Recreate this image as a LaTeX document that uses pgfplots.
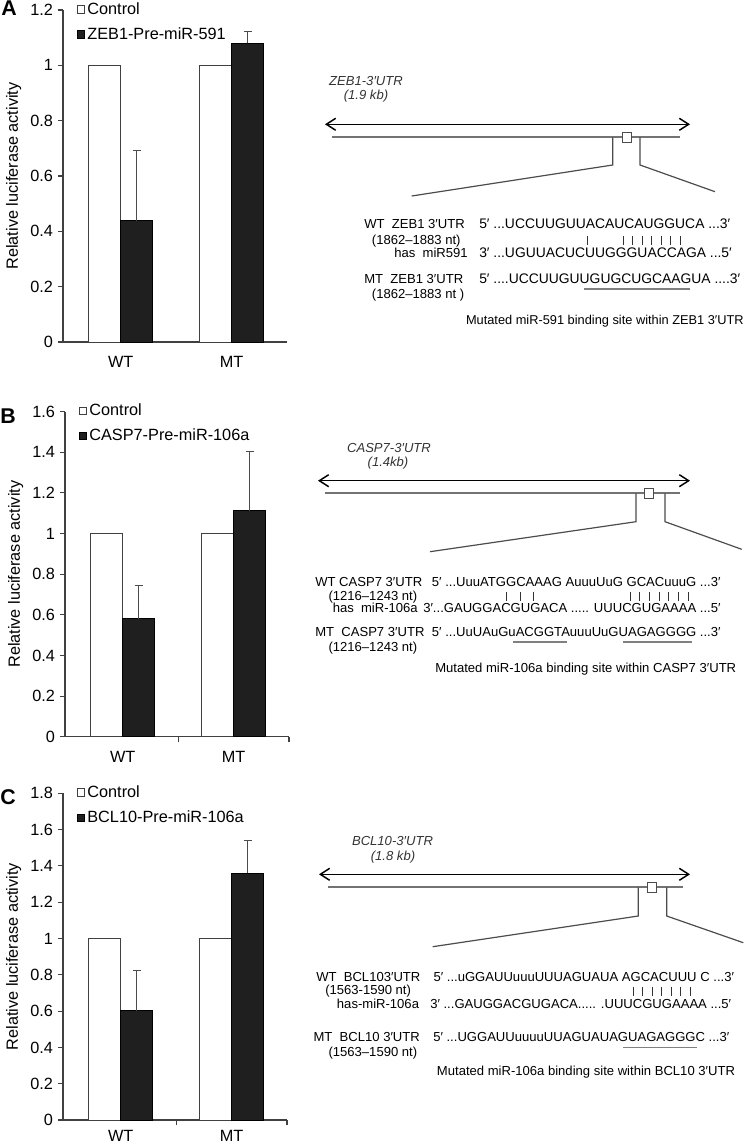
\documentclass[border=0pt]{standalone}
\usepackage{pgfplots}
\pgfplotsset{compat=1.18}
\usepackage{fontspec}
\setmainfont{Liberation Sans}
\usetikzlibrary{arrows.meta}

\newcommand{\tfont}{\fontsize{12.2}{14}\selectfont}
\newcommand{\dfont}{\fontsize{9.8}{12}\selectfont}
\newcommand{\sfont}{\fontsize{10.4}{12}\selectfont}

\pgfplotsset{
  bar axis/.style={
    scale only axis, width=168pt, anchor=south west,
    axis lines*=left,
    axis line style={line width=0.8pt, black!75},
    every tick/.style={line width=0.8pt, black!75},
    xmin=-0.52, xmax=1.5, ymin=0,
    tick align=outside, major tick length=4pt,
    xticklabels={},
    extra x ticks={0,1}, extra x tick labels={WT,MT},
    extra x tick style={major tick length=0pt, tick label style={yshift=-7.5pt}},
    tick label style={font=\tfont},
    /pgf/number format/assume math mode=true,
    ylabel={Relative luciferase activity},
    ylabel style={font=\tfont},
    legend style={at={(0,1)}, anchor=north west, xshift=7pt, yshift=10pt,
      draw=none, fill=none, font=\tfont, row sep=4.5pt,
      nodes={inner sep=2pt}},
    legend cell align=left,
    clip=false,
  },
  ctrl/.style={ybar, bar width=0.29, bar shift=0pt, fill=white, draw=black!75, line width=0.7pt,
    legend image code/.code={\draw[fill=white, draw=black!75, line width=0.5pt] (-1pt,-2.8pt) rectangle (4.6pt,2.8pt);}},
  trt/.style={ybar, bar width=0.29, bar shift=0pt, fill=black!88, draw=black, line width=0.7pt,
    error bars/.cd, y dir=plus, y explicit,
    error bar style={line width=0.7pt, black!70},
    error mark options={rotate=90, mark size=3pt, line width=0.7pt, black!70},
    /pgfplots/.cd,
    legend image code/.code={\draw[fill=black!88, draw=black, line width=0.5pt] (-1pt,-2.8pt) rectangle (4.6pt,2.8pt);}},
}

\begin{document}
\begin{tikzpicture}
\useasboundingbox (0,0) rectangle (559.5pt,-858.75pt);

% ---------- Panel A ----------
\begin{axis}[bar axis, at={(47.25pt,-256.5pt)}, height=249pt,
  ymax=1.2, ytick={0,0.2,0.4,0.6,0.8,1,1.2}, xtick=\empty]
\addplot[ctrl] coordinates {(-0.145,1) (0.855,1)};
\addlegendentry{Control}
\addplot[trt] coordinates {(0.145,0.438) +- (0,0.256) (1.145,1.079) +- (0,0.045)};
\addlegendentry{ZEB1-Pre-miR-591}
\end{axis}

% ---------- Panel B ----------
\begin{axis}[bar axis, at={(48.75pt,-552.5pt)}, height=243.75pt,
  ymax=1.6, ytick={0,0.2,0.4,0.6,0.8,1,1.2,1.4,1.6}, xtick={0.5,1.5}]
\addplot[ctrl] coordinates {(-0.145,1) (0.855,1)};
\addlegendentry{Control}
\addplot[trt] coordinates {(0.145,0.58) +- (0,0.162) (1.145,1.113) +- (0,0.291)};
\addlegendentry{CASP7-Pre-miR-106a}
\end{axis}

% ---------- Panel C ----------
\begin{axis}[bar axis, at={(47.25pt,-840pt)}, height=245pt,
  ymax=1.8, ytick={0,0.2,0.4,0.6,0.8,1,1.2,1.4,1.6,1.8}, xtick={0.5,1.5},
  extra x tick style={tick label style={yshift=3pt}}]
\addplot[ctrl] coordinates {(-0.145,1) (0.855,1)};
\addlegendentry{Control}
\addplot[trt] coordinates {(0.145,0.602) +- (0,0.224) (1.145,1.359) +- (0,0.18)};
\addlegendentry{BCL10-Pre-miR-106a}
\end{axis}

\begin{scope}[x=0.75pt, y=-0.75pt,
  lt/.style={font=\dfont, inner sep=0pt, anchor=mid west},
  st/.style={font=\sfont, inner sep=0pt, anchor=mid west},
  rt/.style={font=\dfont, inner sep=0pt, anchor=mid east},
  mt/.style={font=\fontsize{9.6}{12}\selectfont, inner sep=0pt, anchor=mid east},
  it/.style={font=\dfont\itshape, inner sep=0pt, text=black!80},
  dbl/.style={line width=1.1pt, {Straight Barb[length=7pt,width=9pt]}-{Straight Barb[length=7pt,width=9pt]}},
  utr/.style={line width=1.3pt, black!55},
  con/.style={line width=0.9pt, black!70},
  ul/.style={line width=0.8pt, black!50},
  pr/.style={line width=0.7pt, black!80}]

% panel letters
\node[font=\fontsize{16}{18}\selectfont\bfseries, inner sep=0pt] at (9,8) {A};
\node[font=\fontsize{16}{18}\selectfont\bfseries, inner sep=0pt] at (8,416) {B};
\node[font=\fontsize{16}{18}\selectfont\bfseries, inner sep=0pt] at (8,797) {C};

% ===== Diagram A =====
\node[it] at (366,81) {ZEB1-3′UTR};
\node[it] at (366,96) {(1.9 kb)};
\draw[dbl] (325,124.3) -- (690,124.3);
\draw[utr] (332,137.3) -- (680,137.3);
\draw[con] (612.7,137.3) -- (612.7,165) -- (411.7,196);
\draw[con] (640,137.3) -- (640,165) -- (715,191.7);
\draw[con, fill=white] (622.2,132.3) rectangle (631.2,142.3);
\node[lt] at (364,225) {WT\ \ ZEB1 3′UTR};
\node[st] at (479,225) {5′ ...UCCUUGUUACAUCAUGGUCA ...3′};
\node[lt] at (371.7,240.5) {(1862--1883 nt)};
\foreach \x in {587.7, 623, 632.5, 642, 651.5, 661, 670.5, 680} \draw[pr] (\x,236) -- (\x,245);
\node[rt] at (468,254) {has\ \ miR591};
\node[st] at (479,254) {3′ ...UGUUACUCUUGGGUACCAGA ...5′};
\node[lt] at (364,280) {MT\ \ ZEB1 3′UTR};
\node[st] at (479,280) {5′ ....UCCUUGUUGUGCUGCAAGUA ....3′};
\draw[ul] (584,289) -- (690,289);
\node[lt] at (371.7,295) {(1862--1883 nt )};
\node[mt] at (744,321) {Mutated miR-591 binding site within ZEB1 3′UTR};

% ===== Diagram B =====
\node[it] at (389,447.7) {CASP7-3′UTR};
\node[it] at (388,463.3) {(1.4kb)};
\draw[dbl] (318,480.7) -- (690,480.7);
\draw[utr] (325,493.3) -- (680,493.3);
\draw[con] (636,493.3) -- (636,521.7) -- (430,551.7);
\draw[con] (665,493.3) -- (665,521.7) -- (741.7,549.3);
\draw[con, fill=white] (644.8,488.3) rectangle (653.8,498.3);
\node[lt] at (315,583.3) {WT CASP7 3′UTR};
\node[lt] at (431.7,583.3) {5′ ...UuuATGGCAAAG AuuuUuG GCACuuuG ...3′};
\node[lt] at (328.3,596.7) {(1216--1243 nt)};
\foreach \x in {506.7, 520, 533.3, 630, 639.7, 649.4, 659.1, 668.8, 678.5, 688.3} \draw[pr] (\x,592.2) -- (\x,601.2);
\node[rt] at (418,609) {has\ \ miR-106a};
\node[lt] at (423,609) {3′...GAUGGACGUGACA ..... UUUCGUGAAAA ...5′};
\node[lt] at (315,632.5) {MT\ \ CASP7 3′UTR};
\node[lt] at (431.7,632.5) {5′ ...UuUAuGuACGGTAuuuUuGUAGAGGGG ...3′};
\draw[ul] (513.3,642) -- (566.7,642);
\draw[ul] (623.3,642) -- (691.7,642);
\node[lt] at (328.3,647.5) {(1216--1243 nt)};
\node[lt] at (435,669) {Mutated miR-106a binding site within CASP7 3′UTR};

% ===== Diagram C =====
\node[it] at (392.5,841) {BCL10-3′UTR};
\node[it] at (393,856.7) {(1.8 kb)};
\draw[dbl] (319,874.3) -- (690,874.3);
\draw[utr] (328,887.3) -- (683,887.3);
\draw[con] (638.3,887.3) -- (638.3,916) -- (432.7,946.7);
\draw[con] (666.7,887.3) -- (666.7,916) -- (743.3,942.7);
\draw[con, fill=white] (647.8,882.3) rectangle (656.8,892.3);
\node[lt] at (316,978.3) {WT\ \ BCL103′UTR};
\node[lt] at (433.3,978.3) {5′ ...uGGAUUuuuUUUAGUAUA AGCACUUU C ...3′};
\node[lt] at (325,991) {(1563-1590 nt)};
\foreach \x in {633.3, 642.8, 652.2, 661.7, 671.1, 680.6, 690} \draw[pr] (\x,986.5) -- (\x,995.5);
\node[lt] at (336.7,1005) {has-miR-106a};
\node[lt] at (430,1005) {3′ ...GAUGGACGUGACA..... .UUUCGUGAAAA ...5′};
\node[lt] at (313.3,1038.3) {MT\ \ BCL10 3′UTR};
\node[lt] at (433,1038.3) {5′ ...UGGAUUuuuuUUAGUAUAGUAGAGGGC ...3′};
\draw[ul] (623.3,1047.5) -- (696.7,1047.5);
\node[lt] at (328.3,1053.3) {(1563--1590 nt)};
\node[lt] at (436.7,1071.7) {Mutated miR-106a binding site within BCL10 3′UTR};
\end{scope}
\end{tikzpicture}
\end{document}
